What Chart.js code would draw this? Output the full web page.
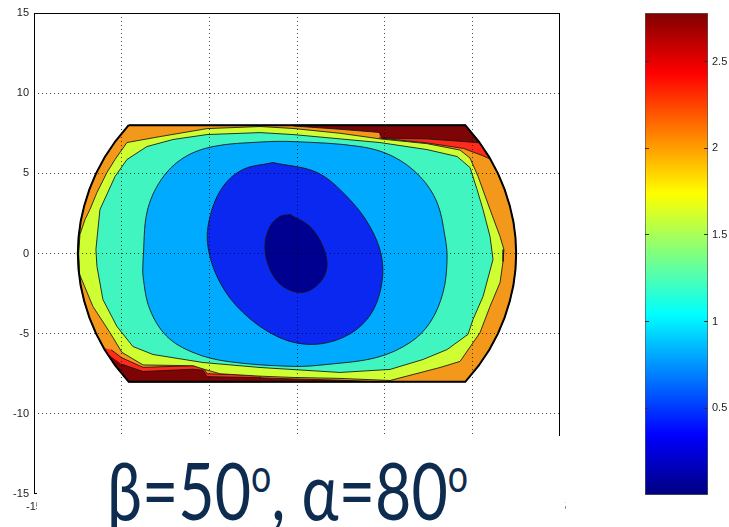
<!DOCTYPE html>
<html>
<head>
<meta charset="utf-8">
<script src="https://cdn.jsdelivr.net/npm/chart.js@4.4.1/dist/chart.umd.min.js"></script>
<style>
html, body { margin: 0; padding: 0; background: #fff; }
#wrap { position: relative; width: 729px; height: 527px; overflow: hidden; background: #fff; }
#mainBox { position: absolute; left: 0; top: 0; width: 600px; height: 527px; }
#barBox { position: absolute; left: 600px; top: 0; width: 129px; height: 527px; }
#cover { position: absolute; left: 37px; top: 436px; width: 528px; height: 91px; background: #fff; }
#caption { position: absolute; left: 107px; top: 449px; font-family: Lato, "Open Sans", sans-serif; font-size: 80px; line-height: 1; color: #0e2b50; white-space: nowrap; transform-origin: 0 0; }
#caption sup { font-size: 0.57em; line-height: 0; vertical-align: 0.62em; }
</style>
</head>
<body>
<div id="wrap">
  <div id="mainBox"><canvas id="main"></canvas></div>
  <div id="barBox"><canvas id="bar"></canvas></div>
  <div id="cover"></div>
  <div id="caption">β=50<sup>o</sup>, α=80<sup>o</sup></div>
</div>
<script>
// axis ticks
var xTicks = [-15, -10, -5, 0, 5, 10, 15];
var yTicks = [-15, -10, -5, 0, 5, 10, 15];
var cbTicks = [0.5, 1, 1.5, 2, 2.5];
var cbMax = 2.78;

// contour bands, [x, y] pairs
var domain = [[-9.6,8],[9.6,8],[10.36,7],[10.97,6],[11.46,5],[11.84,4],[12.13,3],[12.34,2],[12.46,1],[12.5,0],[12.46,-1],[12.34,-2],[12.13,-3],[11.84,-4],[11.46,-5],[10.97,-6],[10.36,-7],[9.6,-8],[-9.6,-8],[-10.36,-7],[-10.97,-6],[-11.46,-5],[-11.84,-4],[-12.13,-3],[-12.34,-2],[-12.46,-1],[-12.5,0],[-12.46,1],[-12.34,2],[-12.13,3],[-11.84,4],[-11.46,5],[-10.97,6],[-10.36,7],[-9.6,8]];
var redTop = [[4.7,7.6],[9.6,8],[10.42,6.9],[11.0,5.9],[10.6,6.1],[9.5,6.55],[7.4,6.9],[4.7,7.2]];
var darkRedTop = [[-0.2,8],[9.6,8],[10.42,6.9],[9.3,7.0],[7.4,7.15],[4.85,7.2],[4.7,7.55],[2.45,7.75],[-0.2,7.95]];
var redLow = [[-11.0,-5.9],[-10.36,-7],[-9.6,-8],[-2.0,-8],[-2.11,-7.6],[-5.13,-7.5],[-5.36,-7.1],[-5.93,-7.0],[-8.78,-7.1],[-10.0,-6.5],[-10.6,-6.0]];
var darkRedLow = [[-10.87,-6.2],[-10.36,-7],[-9.6,-8],[4.7,-8],[2.45,-7.9],[-0.23,-7.82],[-2.11,-7.75],[-5.13,-7.68],[-5.36,-7.28],[-5.93,-7.22],[-8.78,-7.36],[-10.0,-6.9]];
var yellow = [[-9.7,6.92],[-7.82,7.29],[-5.13,7.79],[-2.11,7.92],[-0.23,7.8],[2.45,7.5],[4.73,7.15],[7.42,6.85],[9.3,6.45],[9.87,5.95],[10.33,4.8],[11.01,2.74],[11.58,1.06],[11.8,0.25],[11.75,-0.5],[11.58,-1.81],[11.01,-3.3],[10.44,-4.93],[9.3,-6.73],[8.16,-7.11],[5.31,-7.92],[2.45,-7.79],[-0.23,-7.73],[-2.11,-7.65],[-4.39,-7.5],[-5.36,-7.2],[-5.93,-7.0],[-8.78,-6.95],[-9.98,-6.17],[-10.67,-4.93],[-11.64,-3.3],[-12.4,-1.3],[-12.45,0],[-12.38,1.18],[-12.09,2.12],[-11.81,2.74],[-11.41,3.8],[-10.84,5.05],[-10.38,5.86],[-9.7,6.92]];
var aqua = [[-11.24,2.74],[-10.38,4.8],[-9.7,5.86],[-8.56,6.67],[-7.07,7.11],[-5.13,7.42],[-2.11,7.54],[-0.23,7.42],[4.73,6.92],[7.42,6.48],[9.13,6.05],[9.87,5.36],[10.27,3.99],[10.61,2.74],[11.01,1.06],[11.18,-0.37],[10.61,-2.68],[10.04,-4.11],[9.75,-5.05],[8.56,-5.99],[7.19,-6.61],[5.31,-7.23],[2.45,-7.42],[-2.11,-7.11],[-5.36,-6.8],[-8.21,-6.3],[-9.36,-5.8],[-10.27,-4.55],[-11.07,-2.87],[-11.41,-0.81],[-11.47,0.25],[-11.24,2.74]];
var lightBlue = [[-8.78,-0.37],[-8.55,2.6],[-7.75,4.6],[-6.5,5.95],[-4.79,6.67],[-2.11,6.95],[-0.23,6.98],[3.59,6.67],[5.48,6.05],[7.02,4.8],[7.99,3.18],[8.44,1.06],[8.56,-0.37],[8.33,-2.43],[7.59,-4.3],[6.45,-5.55],[4.56,-6.48],[1.71,-6.92],[-0.23,-7.04],[-3.99,-6.73],[-5.93,-6.17],[-7.42,-5.17],[-8.39,-3.49],[-8.78,-1.43],[-8.78,-0.37]];
var blue = [[-1.37,5.67],[1.14,5.05],[2.85,3.55],[4.16,1.68],[4.85,-0.37],[4.73,-2.43],[3.99,-4.11],[2.62,-5.24],[0.74,-5.67],[-1.14,-5.17],[-3.08,-3.68],[-4.39,-1.81],[-5.08,0.44],[-4.96,2.31],[-4.22,4.18],[-3.08,5.24],[-1.37,5.67]];
var darkBlue = [[-0.4,2.43],[0.74,1.68],[1.48,0.44],[1.71,-0.81],[1.31,-1.81],[0.34,-2.43],[-0.8,-2.06],[-1.54,-1.0],[-1.83,0.44],[-1.54,1.68],[-0.97,2.31],[-0.4,2.43]];

// paint order, bottom first
var layers = [
    { pts: domain, color: "#f3981a", tension: 0 },
    { pts: redTop, color: "#ff2a1a", tension: 0 },
    { pts: darkRedTop, color: "#7d0505", tension: 0 },
    { pts: redLow, color: "#ff2a1a", tension: 0 },
    { pts: darkRedLow, color: "#7d0505", tension: 0 },
    { pts: yellow, color: "#cfff33", tension: 0 },
    { pts: aqua, color: "#40f5c0", tension: 0 },
    { pts: lightBlue, color: "#00aaff", tension: 0.35 },
    { pts: blue, color: "#0a28f0", tension: 0.35 },
    { pts: darkBlue, color: "#000090", tension: 0.35 }
];

function toXY(pts) {
    return pts.map(function (p) { return { x: p[0], y: p[1] }; });
}

var datasets = layers.map(function (l, i) {
    return {
        data: toXY(l.pts),
        showLine: true,
        fill: "shape",
        backgroundColor: l.color,
        borderColor: "rgba(20,20,20,0.85)",
        borderWidth: 1,
        pointRadius: 0,
        tension: l.tension,
        order: layers.length + 1 - i
    };
});
// thick outline of the domain on top
datasets.push({
    data: toXY(domain),
    showLine: true,
    fill: false,
    borderColor: "#000",
    borderWidth: 2,
    pointRadius: 0,
    order: 0
});

var tickFont = { family: "'Liberation Sans', Arial, sans-serif", size: 11 };

function gridColor(ctx) {
    if (ctx.tick && Math.abs(ctx.tick.value) === 15) return "rgba(0,0,0,0)";
    return "rgba(0,0,0,0.7)";
}

var boxPlugin = {
    id: "box",
    afterDraw: function (chart) {
        var a = chart.chartArea, c = chart.ctx;
        c.save();
        c.strokeStyle = "#000";
        c.lineWidth = 1;
        c.strokeRect(a.left + 0.5, a.top + 0.5, a.right - a.left - 1, a.bottom - a.top - 1);
        c.restore();
    }
};

new Chart("main", {
    type: "scatter",
    data: { datasets: datasets },
    plugins: [boxPlugin],
    options: {
        animation: false,
        responsive: true,
        maintainAspectRatio: false,
        layout: { padding: { top: 13, right: 40, left: 0, bottom: 0 } },
        plugins: { legend: { display: false }, tooltip: { enabled: false } },
        scales: {
            x: {
                type: "linear", min: -15, max: 15,
                afterBuildTicks: function (s) { s.ticks = xTicks.map(function (v) { return { value: v }; }); },
                afterFit: function (s) { s.height = 33; },
                grid: { z: 1, color: gridColor, drawTicks: false },
                border: { display: false, dash: [1, 3] },
                ticks: { padding: 6, color: "#222", font: tickFont, maxRotation: 0 }
            },
            y: {
                type: "linear", min: -15, max: 15,
                afterBuildTicks: function (s) { s.ticks = yTicks.map(function (v) { return { value: v }; }); },
                afterFit: function (s) { s.width = 34; },
                grid: { z: 1, color: gridColor, drawTicks: false },
                border: { display: false, dash: [1, 3] },
                ticks: { padding: 5, color: "#222", font: tickFont }
            }
        }
    }
});

// jet colour bar
function jetFill(ctx) {
    var a = ctx.chart.chartArea;
    if (!a) return "#00f";
    var g = ctx.chart.ctx.createLinearGradient(0, a.bottom, 0, a.top);
    g.addColorStop(0, "#000080");
    g.addColorStop(0.125, "#0000ff");
    g.addColorStop(0.375, "#00ffff");
    g.addColorStop(0.625, "#ffff00");
    g.addColorStop(0.875, "#ff0000");
    g.addColorStop(1, "#800000");
    return g;
}

new Chart("bar", {
    type: "bar",
    data: {
        labels: [""],
        datasets: [{
            data: [cbMax],
            backgroundColor: jetFill,
            borderColor: "#555",
            borderWidth: 1,
            borderSkipped: false,
            categoryPercentage: 1,
            barPercentage: 1
        }]
    },
    options: {
        animation: false,
        responsive: true,
        maintainAspectRatio: false,
        layout: { padding: { left: 45, top: 13, bottom: 32, right: 0 } },
        plugins: { legend: { display: false }, tooltip: { enabled: false } },
        scales: {
            x: { display: false },
            y: {
                position: "right", min: 0, max: cbMax,
                afterBuildTicks: function (s) { s.ticks = cbTicks.map(function (v) { return { value: v }; }); },
                afterFit: function (s) { s.width = 21; },
                grid: { z: 1, color: "#333", drawTicks: false },
                border: { display: false, dash: [4, 55, 4, 0] },
                ticks: { padding: 4, color: "#222", font: tickFont, callback: function (v) { return String(v); } }
            }
        }
    }
});

// squeeze caption to the width seen in the picture
function fitCaption() {
    var cap = document.getElementById("caption");
    cap.style.transform = "none";
    var w = cap.getBoundingClientRect().width;
    cap.style.transform = "scaleX(" + (361 / w) + ")";
}
fitCaption();
if (document.fonts && document.fonts.ready) document.fonts.ready.then(fitCaption);
</script>
</body>
</html>
